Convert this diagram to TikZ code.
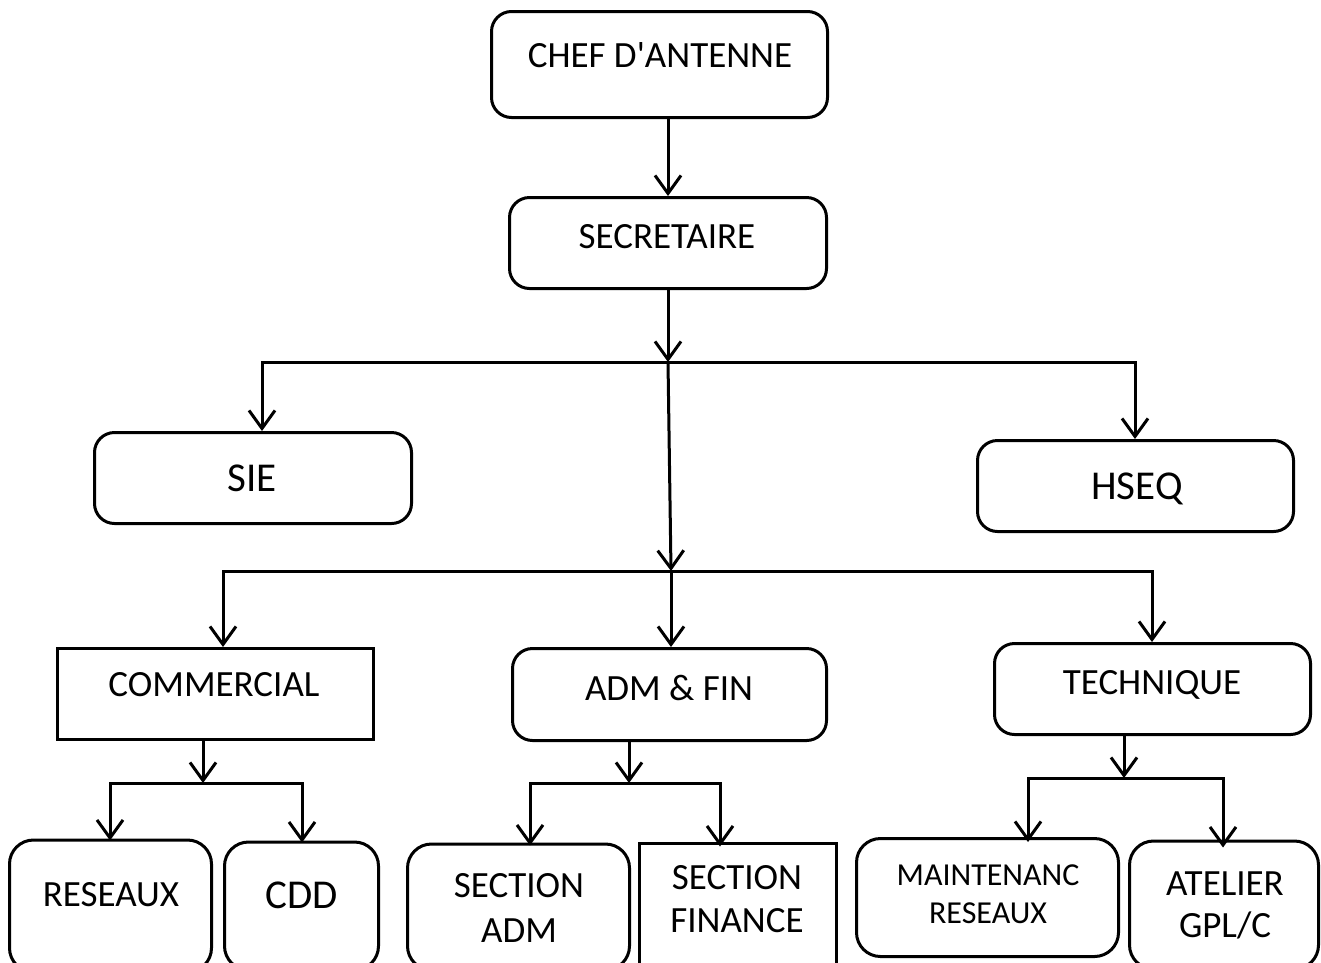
\documentclass[tikz,border=0pt]{standalone}
\usepackage{fontspec}
\setmainfont{Carlito}[Ligatures=TeXOff]
\usetikzlibrary{arrows.meta}
\tikzset{
  box/.style={draw, line width=3pt, rounded corners=20pt, inner sep=0pt},
  sqbox/.style={draw, line width=3pt, inner sep=0pt},
  lbl/.style={anchor=base, align=center, inner sep=0pt, font=\fontsize{37}{44}\selectfont},
  big/.style={font=\fontsize{41}{48}\selectfont},
  wire/.style={line width=3pt, line join=miter},
  barb/.tip={Straight Barb[length=18pt,width=26pt]},
  arr/.style={wire, -barb},
  fork/.style={wire, barb-barb},
}
\begin{document}
\begin{tikzpicture}[x=1pt, y=-1pt]
\useasboundingbox (0,0) rectangle (1321,962);
\clip (0,0) rectangle (1321,962);

% ---- boxes ----
\node[box, minimum width=336pt, minimum height=106pt] (chef) at (659.5,64.5) {};
\node[box, minimum width=317pt, minimum height=91pt] (sec) at (668,243) {};
\node[box, minimum width=317pt, minimum height=91pt] (sie) at (253,478) {};
\node[box, minimum width=316pt, minimum height=91pt] (hseq) at (1135.5,486) {};
\node[sqbox, minimum width=316pt, minimum height=91pt] (comm) at (215.5,694) {};
\node[box, minimum width=314pt, minimum height=92pt] (adm) at (669.5,694.5) {};
\node[box, minimum width=316pt, minimum height=91pt] (tech) at (1152.5,689) {};
\node[box, rounded corners=24pt, minimum width=202pt, minimum height=132pt] (res) at (110.5,906) {};
\node[box, rounded corners=24pt, minimum width=154pt, minimum height=128pt] (cdd) at (301.5,906) {};
\node[box, rounded corners=24pt, minimum width=222pt, minimum height=126pt] (secadm) at (518.5,907) {};
\node[sqbox, minimum width=197pt, minimum height=126pt] (secfin) at (738,906) {};
\node[box, rounded corners=24pt, minimum width=262pt, minimum height=118pt] (maint) at (987.5,897.5) {};
\node[box, rounded corners=24pt, minimum width=189pt, minimum height=128pt] (atel) at (1224,905) {};

% ---- labels (base = baseline of the last line) ----
\node[lbl] at (660,67) {CHEF D'ANTENNE};
\node[lbl] at (667,248) {SECRETAIRE};
\node[lbl, big] at (252,491) {SIE};
\node[lbl, big] at (1137,499) {HSEQ};
\node[lbl] at (214,696) {COMMERCIAL};
\node[lbl] at (669,700) {ADM \& FIN};
\node[lbl] at (1152,694) {TECHNIQUE};
\node[lbl] at (111,906) {RESEAUX};
\node[lbl, big] at (302,908) {CDD};
\node[lbl, font=\fontsize{37}{45}\selectfont] at (519,942) {SECTION\\ADM};
\node[lbl, font=\fontsize{37}{43}\selectfont] at (737,932) {SECTION\\FINANCE};
\node[lbl, font=\fontsize{32}{38}\selectfont] at (988,923) {MAINTENANC\\RESEAUX};
\node[lbl, font=\fontsize{37}{42}\selectfont] at (1225,937) {ATELIER\\GPL/C};

% ---- junction points ----
\coordinate (j1) at (668,362);
\coordinate (j2) at (671,571);
\coordinate (t1l) at (262,362);
\coordinate (t1r) at (1135,362);
\coordinate (t2l) at (223,571);
\coordinate (t2r) at (1152,571);
\coordinate (cj) at (203,783);
\coordinate (cl) at (110,783);
\coordinate (cr) at (302,783);
\coordinate (aj) at (629,783);
\coordinate (al) at (530,783);
\coordinate (ar) at (720,783);
\coordinate (tj) at (1124,778);
\coordinate (tl) at (1028,778);
\coordinate (tr) at (1223,778);

% ---- connectors ----
\draw[arr] (chef.south -| sec.north) -- (sec.north);
\draw[arr] (sec.south) -- (j1);
\draw[fork] (t1l |- sie.north) -- (t1l) -- (t1r) -- (t1r |- hseq.north);
\draw[arr] (j1) -- (j2);
\draw[fork] (t2l |- comm.north) -- (t2l) -- (t2r) -- (t2r |- tech.north);
\draw[arr] (j2) -- (j2 |- adm.north);

\draw[arr] (comm.south -| cj) -- (cj);
\draw[fork] ([yshift=-2pt]res.north -| cl) -- (cl) -- (cr) -- ([yshift=-2pt]cdd.north -| cr);

\draw[arr] (adm.south -| aj) -- (aj);
\draw[fork] ([yshift=-3pt]al |- secadm.north) -- (al) -- (ar) -- ([yshift=-5pt]ar |- secfin.north);

\draw[arr] (tech.south -| tj) -- (tj);
\draw[fork] ([yshift=-5pt]tl |- maint.north) -- (tl) -- (tr) -- ([yshift=-8pt]tr |- atel.north);
\end{tikzpicture}
\end{document}
